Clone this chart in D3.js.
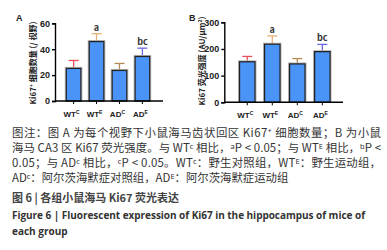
<!DOCTYPE html>
<html>
<head>
<meta charset="utf-8">
<script src="https://cdn.jsdelivr.net/npm/d3@7"></script>
<style>
  body { margin: 0; background: #fff; }
  svg { display: block; font-family: "Noto Sans CJK SC", "Noto Sans", sans-serif; }
</style>
</head>
<body>
<div id="chart"></div>
<script>
const groups = ["WT|C", "WT|E", "AD|C", "AD|E"];
const countMean = [25.2, 45.9, 23.6, 34.4];
const countErr = [6.1, 6.1, 5.4, 6.4];
const intensityMean = [152, 218, 144, 190];
const intensityErr = [20, 31, 20, 27];
const sigLetters = ["", "a", "", "bc"];
const errColors = ["#e8505b", "#e8b074", "#b58a55", "#6a66e0"];

const captionLines = [
  "图注：图 A 为每个视野下小鼠海马齿状回区 Ki67⁺ 细胞数量；B 为小鼠",
  "海马 CA3 区 Ki67 荧光强度。与 WTᶜ 相比，ᵃP < 0.05；与 WTᴱ 相比，ᵇP <",
  "0.05；与 ADᶜ 相比，ᶜP < 0.05。WTᶜ：野生对照组，WTᴱ：野生运动组，",
  "ADᶜ：阿尔茨海默症对照组，ADᴱ：阿尔茨海默症运动组"
];

const width = 387, height = 250;
const svg = d3.select("#chart").append("svg")
  .attr("width", width).attr("height", height);

function drawPanel(cfg) {
  const g = svg.append("g");
  const x = d3.scaleBand().domain(groups).range(cfg.xRange).padding(cfg.pad);
  const y = d3.scaleLinear().domain([0, cfg.yMax]).range(cfg.yRange);
  const data = groups.map((k, i) => ({ k, m: cfg.mean[i], e: cfg.err[i], i }));

  // error bars (up only)
  data.forEach(d => {
    const cx = x(d.k) + x.bandwidth() / 2;
    g.append("line").attr("x1", cx).attr("x2", cx)
      .attr("y1", y(d.m)).attr("y2", y(d.m + d.e))
      .attr("stroke", errColors[d.i]).attr("stroke-width", 1.3);
    g.append("line").attr("x1", cx - 5).attr("x2", cx + 5)
      .attr("y1", y(d.m + d.e)).attr("y2", y(d.m + d.e))
      .attr("stroke", errColors[d.i]).attr("stroke-width", 1.3);
  });

  // bars, with a faint grey halo like the source
  g.selectAll("rect.halo").data(data).join("rect")
    .attr("class", "halo")
    .attr("x", d => x(d.k) - 1).attr("width", x.bandwidth() + 2)
    .attr("y", d => y(d.m) - 1).attr("height", d => y(0) - y(d.m) + 1)
    .attr("fill", "none").attr("stroke", "#bbb").attr("stroke-width", 1);
  g.selectAll("rect.bar").data(data).join("rect")
    .attr("class", "bar")
    .attr("x", d => x(d.k)).attr("width", x.bandwidth())
    .attr("y", d => y(d.m)).attr("height", d => y(0) - y(d.m))
    .attr("fill", "#4a94f7").attr("stroke", "#222").attr("stroke-width", 1.3);

  // letters
  g.selectAll("text.sig").data(data.filter(d => sigLetters[d.i])).join("text")
    .attr("class", "sig")
    .attr("x", d => x(d.k) + x.bandwidth() / 2)
    .attr("y", d => y(d.m + d.e) - 3)
    .attr("text-anchor", "middle")
    .attr("font-size", "9px").attr("font-weight", "bold").attr("fill", "#333")
    .text(d => sigLetters[d.i]);

  // y axis
  const ya = g.append("g").attr("transform", `translate(${cfg.axisX},0)`)
    .call(d3.axisLeft(y).tickValues(cfg.ticks).tickSize(3).tickPadding(2));
  ya.select(".domain").attr("stroke-width", 1.4);
  ya.selectAll("line").attr("stroke-width", 1.4);
  ya.selectAll("text").attr("font-size", "9px").attr("font-weight", "bold")
    .attr("fill", "#222").attr("font-family", "Liberation Sans, Arial, sans-serif");

  // x axis
  const xa = g.append("g").attr("transform", `translate(0,${y(0)})`)
    .call(d3.axisBottom(x).tickSize(3).tickFormat(""));
  xa.select(".domain").remove();
  xa.selectAll("line").attr("stroke-width", 1);
  g.append("line").attr("x1", cfg.axisX).attr("x2", cfg.axisEnd)
    .attr("y1", y(0)).attr("y2", y(0)).attr("stroke", "#000").attr("stroke-width", 1.4);

  groups.forEach(k => {
    const [base, sup] = k.split("|");
    const t = g.append("text")
      .attr("x", x(k) + x.bandwidth() / 2 - 2).attr("y", y(0) + 16)
      .attr("text-anchor", "middle").attr("font-size", "8px").attr("font-weight", "bold")
      .attr("fill", "#222").attr("font-family", "Liberation Sans, Arial, sans-serif");
    t.append("tspan").text(base);
    t.append("tspan").attr("dy", -3.5).attr("font-size", "5px").text(sup);
  });

  // y title
  const yt = g.append("text")
    .attr("transform", `translate(${cfg.titleX},${cfg.titleY}) rotate(-90)`)
    .attr("text-anchor", "middle").attr("font-size", "8px").attr("font-weight", "bold")
    .attr("fill", "#222");
  cfg.title(yt);

  svg.append("text").attr("x", cfg.letterX).attr("y", 21)
    .attr("font-size", "9px").attr("font-weight", "bold").attr("fill", "#222")
    .attr("font-family", "Liberation Sans, Arial, sans-serif")
    .text(cfg.letter);
}

drawPanel({
  mean: countMean, err: countErr, yMax: 60, ticks: [0, 20, 40, 60],
  xRange: [58, 158], pad: 0.36, yRange: [101, 23.3], axisX: 55, axisEnd: 163,
  titleX: 36, titleY: 63, letterX: 16, letter: "A",
  title: t => {
    t.append("tspan").text("Ki67");
    t.append("tspan").attr("dy", -3).attr("font-size", "5px").text("+");
    t.append("tspan").attr("dy", 3).text(" 细胞数量 (/ 视野)");
  }
});

drawPanel({
  mean: intensityMean, err: intensityErr, yMax: 300, ticks: [0, 100, 200, 300],
  xRange: [230, 339.6], pad: 0.38, yRange: [102.3, 22.3], axisX: 224.3, axisEnd: 343,
  titleX: 205, titleY: 61, letterX: 189, letter: "B",
  title: t => {
    t.append("tspan").text("Ki67 荧光强度 (AU/μm");
    t.append("tspan").attr("dy", -3).attr("font-size", "5px").text("2");
    t.append("tspan").attr("dy", 3).text(")");
  }
});

// caption
const capY = [137, 152, 167, 182];
captionLines.forEach((line, i) => {
  const t = svg.append("text").attr("x", 12).attr("y", capY[i])
    .attr("font-size", "11.4px").attr("fill", "#333").text(line);
  if (i < 3) t.attr("textLength", 369).attr("lengthAdjust", "spacing");
});

svg.append("text").attr("x", 12).attr("y", 202)
  .attr("font-size", "11px").attr("font-weight", "bold").attr("fill", "#444")
  .text("图 6 | 各组小鼠海马 Ki67 荧光表达");
svg.append("text").attr("x", 12).attr("y", 219)
  .attr("font-size", "10px").attr("font-weight", "bold").attr("fill", "#333")
  .attr("font-family", "Open Sans, Noto Sans, sans-serif")
  .attr("textLength", 353).attr("lengthAdjust", "spacing")
  .text("Figure 6 | Fluorescent expression of Ki67 in the hippocampus of mice of");
svg.append("text").attr("x", 12).attr("y", 235)
  .attr("font-size", "10px").attr("font-weight", "bold").attr("fill", "#333")
  .attr("font-family", "Open Sans, Noto Sans, sans-serif")
  .text("each group");
</script>
</body>
</html>
